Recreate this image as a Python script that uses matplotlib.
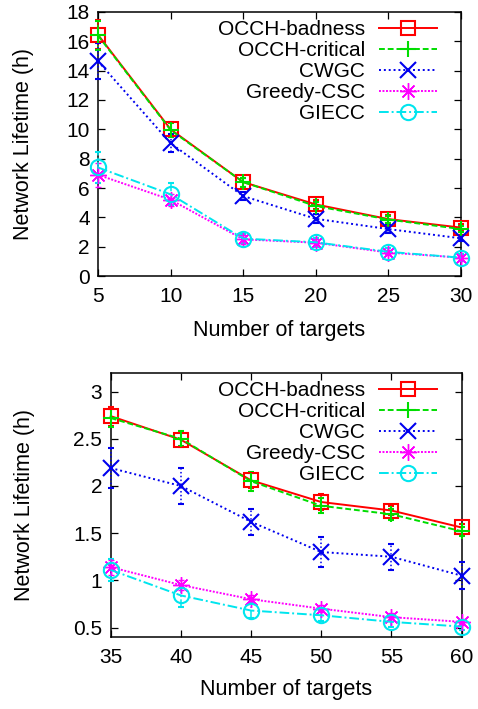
import matplotlib
matplotlib.use("Agg")
import matplotlib.pyplot as plt

plt.rcParams['font.family'] = ['Liberation Sans', 'DejaVu Sans']

series_names = ['OCCH-badness', 'OCCH-critical', 'CWGC', 'Greedy-CSC', 'GIECC']

# small networks
targets_small = [5, 10, 15, 20, 25, 30]
small_means = {
    'OCCH-badness':  [16.45, 10.0, 6.4, 4.88, 3.88, 3.3],
    'OCCH-critical': [16.4, 9.95, 6.4, 4.77, 3.85, 3.2],
    'CWGC':          [14.65, 9.05, 5.45, 3.9, 3.2, 2.57],
    'Greedy-CSC':    [6.9, 5.2, 2.5, 2.27, 1.6, 1.25],
    'GIECC':         [7.4, 5.57, 2.55, 2.3, 1.65, 1.25],
}
small_err = {
    'OCCH-badness':  [1.0, 0.5, 0.3, 0.3, 0.25, 0.25],
    'OCCH-critical': [1.0, 0.5, 0.3, 0.3, 0.25, 0.2],
    'CWGC':          [1.25, 0.6, 0.3, 0.3, 0.25, 0.2],
    'Greedy-CSC':    [0.8, 0.4, 0.3, 0.25, 0.2, 0.2],
    'GIECC':         [1.05, 0.75, 0.3, 0.3, 0.25, 0.25],
}

# large networks
targets_large = [35, 40, 45, 50, 55, 60]
large_means = {
    'OCCH-badness':  [2.74, 2.49, 2.06, 1.83, 1.74, 1.56],
    'OCCH-critical': [2.72, 2.5, 2.05, 1.79, 1.70, 1.52],
    'CWGC':          [2.19, 2.0, 1.62, 1.30, 1.25, 1.05],
    'Greedy-CSC':    [1.14, 0.95, 0.80, 0.70, 0.61, 0.56],
    'GIECC':         [1.11, 0.84, 0.68, 0.63, 0.56, 0.51],
}
large_err = {
    'OCCH-badness':  [0.1, 0.08, 0.08, 0.08, 0.05, 0.04],
    'OCCH-critical': [0.1, 0.08, 0.1, 0.08, 0.06, 0.05],
    'CWGC':          [0.21, 0.19, 0.14, 0.16, 0.14, 0.14],
    'Greedy-CSC':    [0.08, 0.05, 0.04, 0.04, 0.04, 0.03],
    'GIECC':         [0.12, 0.12, 0.08, 0.06, 0.05, 0.04],
}

styles = {
    'OCCH-badness':  dict(color='#ff0000', ls='-', marker='s', ms=10, mew=1.5),
    'OCCH-critical': dict(color='#00dd00', ls=(0, (3, 1.5)), marker='+', ms=12, mew=1.5),
    'CWGC':          dict(color='#0000ee', ls=(0, (1, 1.5)), marker='x', ms=11, mew=1.5),
    'Greedy-CSC':    dict(color='#ff00ff', ls=(0, (1, 0.8)), marker=(8, 2, 0), ms=12, mew=1.0),
    'GIECC':         dict(color='#00e5ee', ls=(0, (5, 1.5, 1, 1.5)), marker='o', ms=11, mew=1.5),
}

FS = 15


def draw_panel(ax, xs, means, errs, ylim, yticks, legend_anchor, ylab_x, xlab_y):
    handles = []
    for name in series_names:
        st = styles[name]
        eb = ax.errorbar(xs, means[name], yerr=errs[name], color=st['color'],
                         ls=st['ls'], lw=1.4, marker=st['marker'], ms=st['ms'],
                         mfc='none', mew=st['mew'], elinewidth=1.1, capsize=2,
                         capthick=1.1, clip_on=False, zorder=3)
        for bar in eb[2]:
            bar.set_linestyle(st['ls'])
        h, = ax.plot([], [], color=st['color'], ls=st['ls'], lw=1.4,
                     marker=st['marker'], ms=st['ms'], mfc='none', mew=st['mew'])
        handles.append(h)

    ax.set_xlim(xs[0], xs[-1])
    ax.set_ylim(*ylim)
    ax.set_xticks(xs)
    ax.set_yticks(yticks)
    ax.set_yticklabels([f'{t:g}' for t in yticks])
    ax.tick_params(direction='in', top=True, right=True, length=5,
                   width=0.9, labelsize=FS, pad=8)
    ax.tick_params(axis='y', pad=6)
    for sp in ax.spines.values():
        sp.set_linewidth(1.1)
    ax.set_xlabel('Number of targets', fontsize=FS + 0.5, va='center')
    ax.set_ylabel('Network Lifetime (h)', fontsize=FS + 0.5, va='center')
    ax.xaxis.set_label_coords(0.5, xlab_y)
    ax.yaxis.set_label_coords(ylab_x, 0.5)

    ax.legend(handles, series_names, loc='upper right',
              bbox_to_anchor=legend_anchor, bbox_transform=ax.figure.transFigure,
              frameon=False, markerfirst=False, fontsize=FS, borderpad=0,
              borderaxespad=0, handlelength=2.8, handletextpad=0.65,
              labelspacing=0.1)


fig = plt.figure(figsize=(4.78, 7.09), dpi=100)

ax_top = fig.add_axes([0.205, 0.6107, 0.7595, 0.3724])
draw_panel(ax_top, targets_small, small_means, small_err,
           (0, 18), list(range(0, 19, 2)), (437 / 478, 1 - 20 / 709),
           -0.204, -0.2045)

ax_bot = fig.add_axes([0.2316, 0.1016, 0.734, 0.3727])
draw_panel(ax_bot, targets_large, large_means, large_err,
           (0.4, 3.2), [0.5, 1, 1.5, 2, 2.5, 3], (437 / 478, 1 - 381 / 709),
           -0.247, -0.2005)

fig.savefig('out.png', dpi=100)
